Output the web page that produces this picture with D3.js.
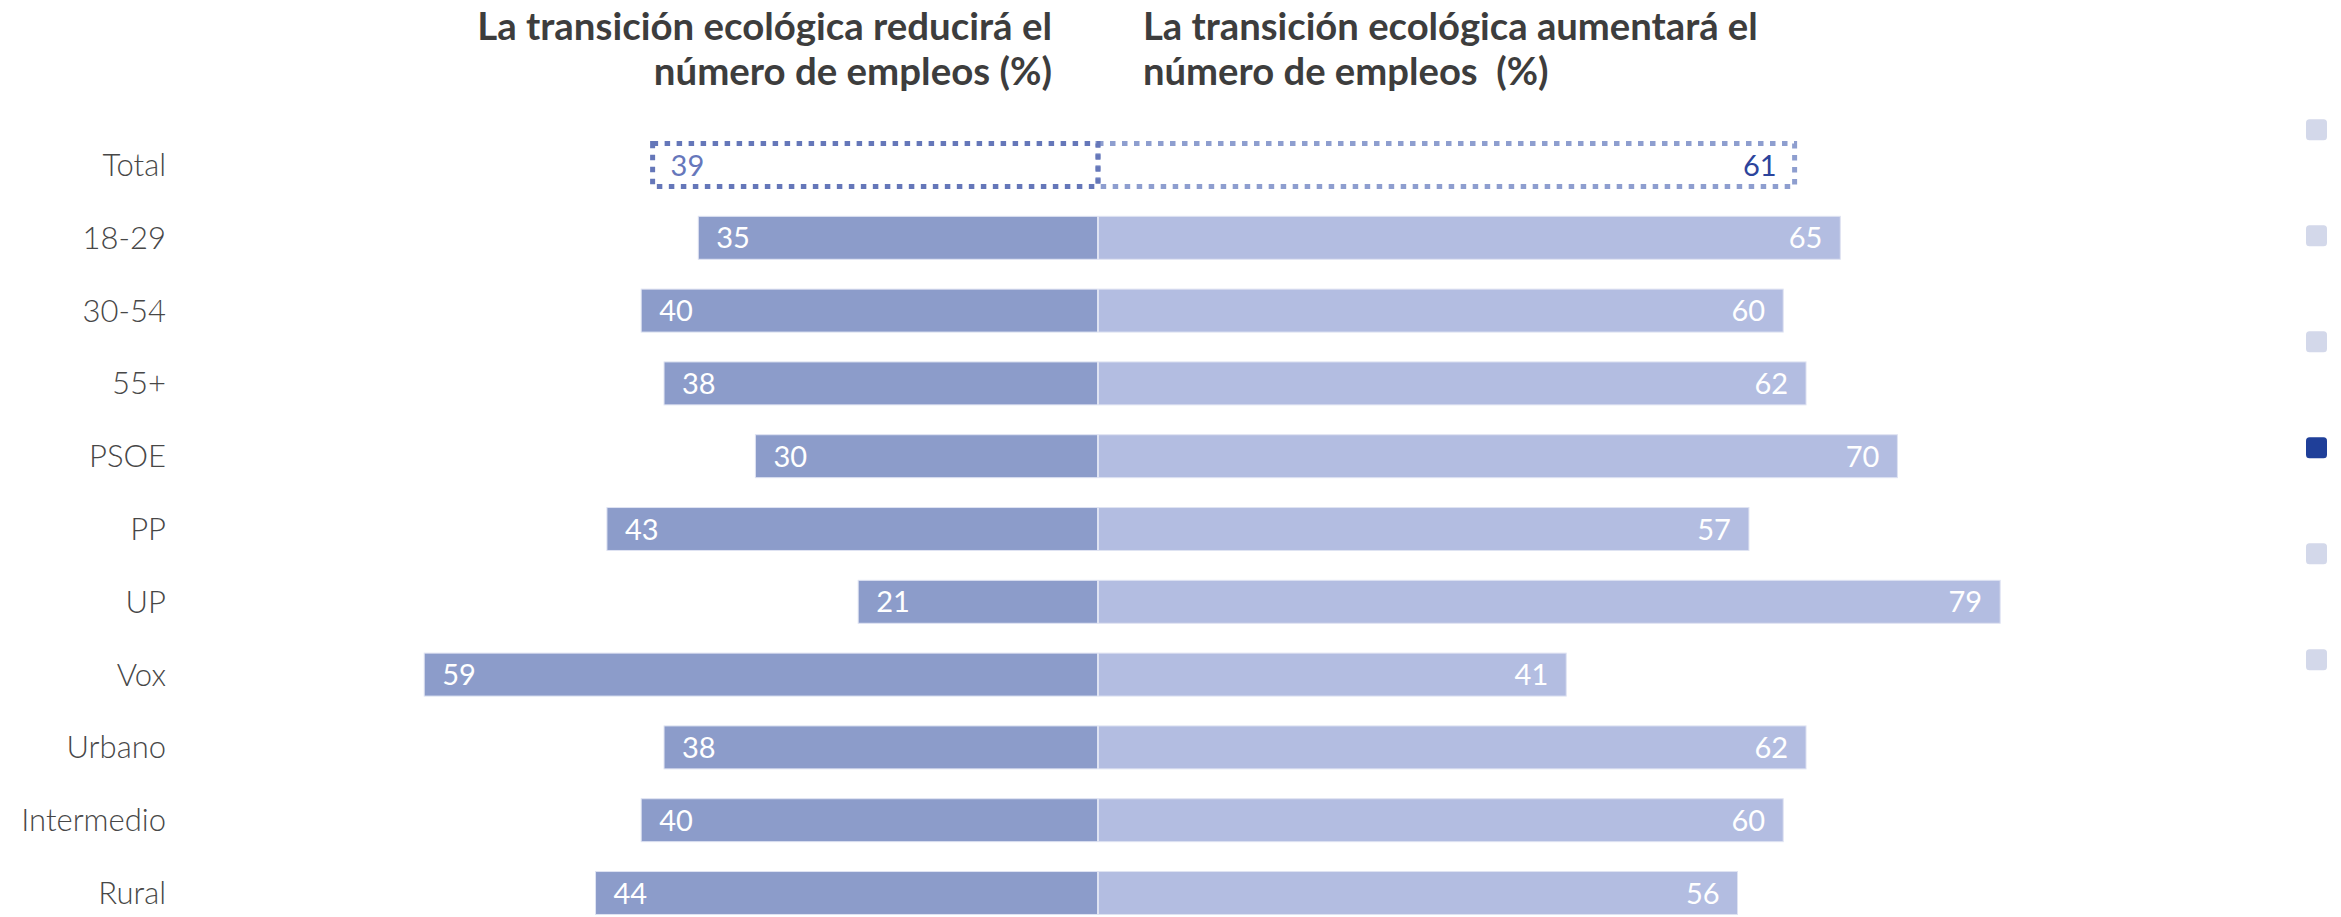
<!DOCTYPE html>
<html>
<head>
<meta charset="utf-8">
<script src="https://cdn.jsdelivr.net/npm/d3@7"></script>
<style>
  html, body { margin: 0; padding: 0; background: #ffffff; }
  svg { display: block; }
</style>
</head>
<body>
<div id="chart"></div>
<script>
// ---------- data ----------
const categories = ["Total", "18-29", "30-54", "55+", "PSOE", "PP", "UP", "Vox", "Urbano", "Intermedio", "Rural"];
const reduceValues = [39, 35, 40, 38, 30, 43, 21, 59, 38, 40, 44];
const increaseValues = [61, 65, 60, 62, 70, 57, 79, 41, 62, 60, 56];
const titleLeft = ["La transición ecológica reducirá el", "número de empleos (%)"];
const titleRight = ["La transición ecológica aumentará el", "número de empleos  (%)"];
const pageDots = [0, 1, 2, 3, 4, 5];
const activePage = 3;

// ---------- layout ----------
const W = 2341, H = 917;
const centerX = 1098;
const leftColor = "#8c9cca", rightColor = "#b3bde1";
const totalLeftStroke = "#6577b9", totalRightStroke = "#8e9ecf";

const svg = d3.select("#chart").append("svg").attr("width", W).attr("height", H);

const y = d3.scaleBand()
  .domain(categories)
  .range([128.6, 929.4])
  .paddingInner(0.41)
  .paddingOuter(0.205);

const xL = d3.scaleLinear().domain([0, 100]).range([centerX, centerX - 1142]);
const xR = d3.scaleLinear().domain([0, 100]).range([centerX, centerX + 1142]);

const rows = categories.map((c, i) => ({ cat: c, left: reduceValues[i], right: increaseValues[i], total: c === "Total" }));

// titles (fit to measured widths)
function fitTitle(lines, anchor, x, targetWidth) {
  const g = svg.append("g");
  const t = g.append("text").attr("font-family", "Lato").attr("font-weight", 700)
    .attr("font-size", 100).text(lines[0]);
  const w = t.node().getComputedTextLength();
  t.remove();
  const fs = 100 * targetWidth / w;
  lines.forEach((ln, i) => {
    g.append("text")
      .attr("x", x).attr("y", 40 + i * 45)
      .attr("text-anchor", anchor)
      .attr("font-family", "Lato").attr("font-weight", 700)
      .attr("font-size", fs)
      .attr("fill", "#3d3d3d")
      .style("white-space", "pre")
      .text(ln);
  });
}
fitTitle(titleLeft, "end", 1052, 575);
fitTitle(titleRight, "start", 1143, 615);

// category labels
svg.append("g").selectAll("text").data(rows).join("text")
  .attr("x", 166)
  .attr("y", d => y(d.cat) + y.bandwidth() / 2 + 11)
  .attr("text-anchor", "end")
  .attr("font-family", "Lato").attr("font-weight", 300)
  .attr("font-size", 31)
  .attr("fill", "#474747")
  .text(d => d.cat);

const bars = rows.filter(d => !d.total);
const totals = rows.filter(d => d.total);

// left bars
svg.append("g").selectAll("rect").data(bars).join("rect")
  .attr("x", d => xL(d.left))
  .attr("y", d => y(d.cat))
  .attr("width", d => xL(0) - xL(d.left) - 0.5)
  .attr("height", y.bandwidth())
  .attr("fill", leftColor)
  .attr("stroke", "#dfe3f2").attr("stroke-width", 1);

// right bars
svg.append("g").selectAll("rect").data(bars).join("rect")
  .attr("x", d => xR(0) + 0.5)
  .attr("y", d => y(d.cat))
  .attr("width", d => xR(d.right) - xR(0) - 0.5)
  .attr("height", y.bandwidth())
  .attr("fill", rightColor)
  .attr("stroke", "#dfe3f2").attr("stroke-width", 1);

// total dotted boxes
svg.append("g").selectAll("rect").data(totals).join("rect")
  .attr("x", d => xR(0))
  .attr("y", d => y(d.cat))
  .attr("width", d => xR(d.right) - xR(0))
  .attr("height", y.bandwidth())
  .attr("fill", "none")
  .attr("stroke", totalRightStroke).attr("stroke-width", 5)
  .attr("stroke-dasharray", "5.5,6.5");
svg.append("g").selectAll("rect").data(totals).join("rect")
  .attr("x", d => xL(d.left))
  .attr("y", d => y(d.cat))
  .attr("width", d => xL(0) - xL(d.left))
  .attr("height", y.bandwidth())
  .attr("fill", "none")
  .attr("stroke", totalLeftStroke).attr("stroke-width", 5)
  .attr("stroke-dasharray", "5.5,6.5");

// value labels
const labelFs = 29;
svg.append("g").selectAll("text").data(rows).join("text")
  .attr("x", d => xL(d.left) + 18)
  .attr("y", d => y(d.cat) + y.bandwidth() / 2 + 10.5)
  .attr("font-family", "Lato").attr("font-weight", 400)
  .attr("font-size", labelFs)
  .attr("fill", d => d.total ? "#6677bb" : "#ffffff")
  .text(d => d.left);

svg.append("g").selectAll("text").data(rows).join("text")
  .attr("x", d => xR(d.right) - 18)
  .attr("y", d => y(d.cat) + y.bandwidth() / 2 + 10.5)
  .attr("text-anchor", "end")
  .attr("font-family", "Lato").attr("font-weight", 400)
  .attr("font-size", labelFs)
  .attr("fill", d => d.total ? "#2c449c" : "#ffffff")
  .text(d => d.right);

// page indicator squares
const dotY = d3.scalePoint().domain(pageDots).range([119.3, 649.3]);
svg.append("g").selectAll("rect").data(pageDots).join("rect")
  .attr("x", 2306)
  .attr("y", d => dotY(d))
  .attr("width", 21).attr("height", 21)
  .attr("rx", 3.5)
  .attr("fill", d => d === activePage ? "#1f3f99" : "#d3d8ea");
</script>
</body>
</html>
